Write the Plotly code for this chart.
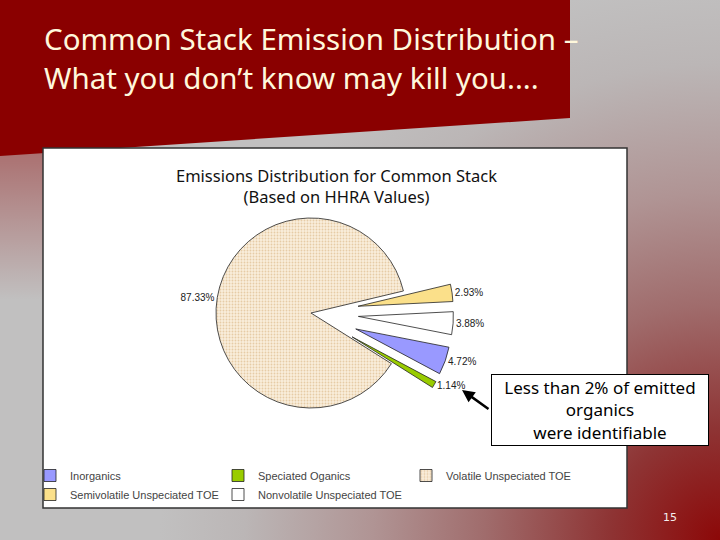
import base64
import plotly.graph_objects as go

# ---------------- data ----------------
labels = ["Inorganics", "Speciated Oganics", "Volatile Unspeciated TOE",
          "Semivolatile Unspeciated TOE", "Nonvolatile Unspeciated TOE"]
values = [4.72, 1.14, 87.33, 2.93, 3.88]
colors = ["#9999ff", "#99cc00", "#faeedc", "#fbe08a", "#ffffff"]
pulls = [0.5, 0.5, 0.0, 0.5, 0.5]

slide_title_1 = "Common Stack Emission Distribution –"
slide_title_2 = "What you don’t know may kill you...."
chart_title = "Emissions Distribution for Common Stack<br>(Based on HHRA Values)"
callout = "Less than 2% of emitted<br>organics<br>were identifiable"
page_no = "15"

# ---------------- geometry helpers ----------------
W, H = 720, 540
L, R, T, B = 20, 80, 148, 32
PW, PH = W - L - R, H - T - B


def px(xp):
    return (xp - L) / PW


def py(yp):
    return (H - B - yp) / PH


# pie center / radius in pixels
cx, cy, rad = 311, 313, 95
half = rad * (1 + max(pulls))
dom_x = [px(cx - half), px(cx + half)]
dom_y = [py(cy + half), py(cy - half)]

# ---------------- background (decoration) ----------------
svg = f"""<svg xmlns='http://www.w3.org/2000/svg' width='{W}' height='{H}'>
<defs>
<radialGradient id='g' cx='720' cy='540' r='560' gradientUnits='userSpaceOnUse'>
<stop offset='0' stop-color='#8c0808'/>
<stop offset='0.2' stop-color='#8e3434'/>
<stop offset='0.42' stop-color='#a06c6c'/>
<stop offset='0.62' stop-color='#b09494'/>
<stop offset='0.85' stop-color='#bbb6b6'/>
<stop offset='1' stop-color='#c1c0c0'/>
</radialGradient>
<linearGradient id='s' x1='0' y1='0' x2='0' y2='1'>
<stop offset='0' stop-color='#8b0000' stop-opacity='0.45'/>
<stop offset='1' stop-color='#8b0000' stop-opacity='0'/>
</linearGradient>
</defs>
<rect width='{W}' height='{H}' fill='url(#g)'/>
<rect x='0' y='140' width='60' height='160' fill='url(#s)'/>
<polygon points='0,0 570,0 570,118 0,156' fill='#8a0000'/>
</svg>"""
src = "data:image/svg+xml;base64," + base64.b64encode(svg.encode()).decode()

# ---------------- figure ----------------
fig = go.Figure()
fig.add_trace(go.Pie(
    labels=labels, values=values, sort=False, direction="clockwise",
    rotation=101.1, pull=pulls,
    marker=dict(colors=colors, line=dict(color="#222222", width=0.8),
                pattern=dict(shape=["", "", ".", "", ""],
                             fgcolor=["#9999ff", "#99cc00", "#e6cca6", "#fbe08a", "#ffffff"],
                             bgcolor=colors, fillmode="replace",
                             size=3, solidity=0.3)),
    texttemplate="%{value:.2f}%", textposition="outside",
    textfont=dict(family="Liberation Sans", size=10, color="#222222"),
    domain=dict(x=dom_x, y=dom_y), hoverinfo="label+percent",
))

shapes = [dict(type="rect", xref="paper", yref="paper", layer="below",
               x0=px(43), x1=px(627), y0=py(508), y1=py(148),
               fillcolor="white", line=dict(color="#333333", width=1.5))]

annotations = [
    dict(text=slide_title_1, xref="paper", yref="paper", x=px(42), y=py(39),
         xanchor="left", yanchor="middle", showarrow=False,
         font=dict(family="Noto Sans", size=29.5, color="#fff8dc")),
    dict(text=slide_title_2, xref="paper", yref="paper", x=px(42), y=py(77),
         xanchor="left", yanchor="middle", showarrow=False,
         font=dict(family="Noto Sans", size=29.5, color="#fff8dc")),
    dict(text=chart_title, xref="paper", yref="paper", x=px(337), y=py(186),
         xanchor="center", yanchor="middle", showarrow=False,
         font=dict(family="Noto Sans", size=16.5, color="#111111")),
    dict(text=callout, xref="paper", yref="paper", x=px(600), y=py(410),
         xanchor="center", yanchor="middle", showarrow=False,
         width=212, height=66, bgcolor="white", bordercolor="black",
         borderwidth=1, borderpad=2,
         font=dict(family="Noto Sans", size=17, color="black")),
    dict(text="", xref="paper", yref="paper", x=px(462), y=py(390),
         ax=28, ay=20, showarrow=True, arrowhead=2, arrowsize=1,
         arrowwidth=2.5, arrowcolor="black"),
    dict(text=page_no, xref="paper", yref="paper", x=px(670), y=py(517),
         xanchor="center", yanchor="middle", showarrow=False,
         font=dict(family="DejaVu Sans", size=11, color="#f4eeee")),
]

fig.update_layout(
    width=W, height=H, margin=dict(l=L, r=R, t=T, b=B),
    paper_bgcolor="#c0c0c0",
    images=[dict(source=src, xref="paper", yref="paper", x=px(0), y=py(0),
                 sizex=W / PW, sizey=H / PH, xanchor="left", yanchor="top",
                 sizing="stretch", layer="below")],
    shapes=shapes, annotations=annotations,
    legend=dict(orientation="h", x=px(30), y=py(461), xanchor="left",
                yanchor="top", entrywidth=143, entrywidthmode="pixels",
                font=dict(family="Liberation Sans", size=11, color="#444444"),
                bgcolor="rgba(0,0,0,0)", traceorder="normal"),
    showlegend=True,
)

fig.write_html("out.html", config={"displayModeBar": False},
               post_script="document.body.style.margin='0';"
                           "document.body.style.overflow='hidden';")
